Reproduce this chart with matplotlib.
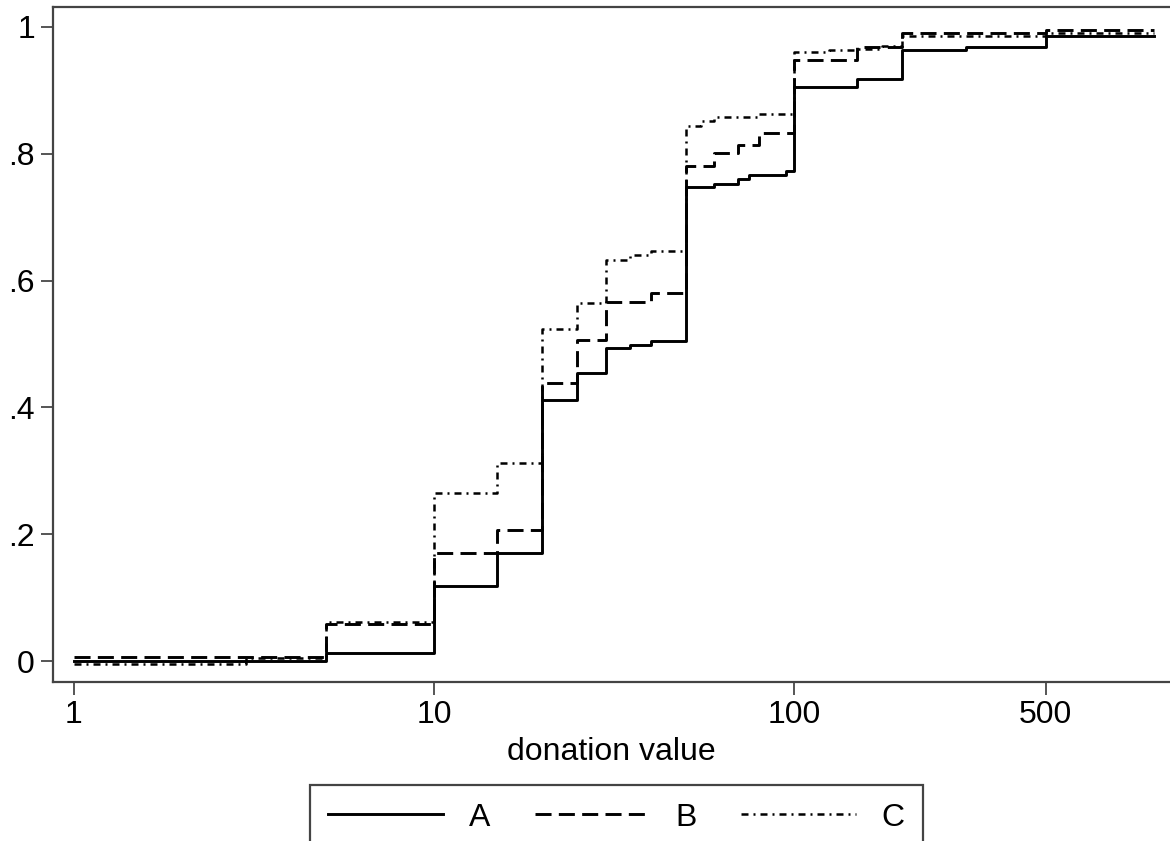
# step plot of cumulative donation shares for three groups
from matplotlib import pyplot as plt
import numpy as np

plt.rcParams['font.family'] = ['Liberation Sans', 'DejaVu Sans']

# group A (solid)
a_x = [1, 5, 10, 15, 20, 25, 30, 35, 40, 50, 60, 70, 75, 95, 100, 150, 200, 300, 500, 1000]
a_y = [0.0, 0.013, 0.119, 0.17, 0.411, 0.455, 0.493, 0.498, 0.505, 0.747, 0.752, 0.76, 0.766,
       0.773, 0.906, 0.918, 0.964, 0.969, 0.986, 0.986]
# group B (dashed)
b_x = [1, 5, 10, 15, 20, 25, 30, 40, 50, 60, 70, 80, 100, 150, 200, 500, 1000]
b_y = [0.006, 0.059, 0.171, 0.206, 0.439, 0.507, 0.567, 0.581, 0.781, 0.802, 0.814, 0.832,
       0.948, 0.969, 0.991, 0.995, 0.995]
# group C (dash-dot)
c_x = [1, 3, 5, 10, 15, 20, 25, 30, 35, 40, 50, 55, 60, 80, 100, 125, 150, 175, 200, 500, 1000]
c_y = [-0.004, 0.005, 0.061, 0.265, 0.312, 0.524, 0.565, 0.633, 0.640, 0.646, 0.844, 0.851,
       0.858, 0.863, 0.960, 0.963, 0.966, 0.970, 0.986, 0.990, 0.990]

x_ticks = [1, 10, 100, 500]
x_ticklabels = ['1', '10', '100', '500']
y_ticks = [0, 0.2, 0.4, 0.6, 0.8, 1]
y_ticklabels = ['0', '.2', '.4', '.6', '.8', '1']

fig = plt.figure(figsize=(11.7, 8.41), dpi=100)
ax = fig.add_axes([53 / 1170, 1 - 682 / 841, 1 - 53 / 1170, (682 - 7) / 841])

ax.step(a_x, a_y, where='post', color='black', lw=2.1, label='A')
ax.step(b_x, b_y, where='post', color='black', lw=2.1, dashes=(5.5, 2.5), label='B')
ax.step(c_x, c_y, where='post', color='black', lw=1.8,
        dashes=(2.8, 2.0, 0.8, 2.0), label='C')

ax.set_xscale('log')
ax.set_xlim(10 ** -0.0583, 10 ** 3.0444)
ax.set_ylim(-0.0331, 1.0315)
ax.set_xticks(x_ticks)
ax.set_xticklabels(x_ticklabels)
ax.minorticks_off()
ax.set_yticks(y_ticks)
ax.set_yticklabels(y_ticklabels)

ax.tick_params(axis='both', direction='out', length=9, width=1.4, color='#555555',
               labelsize=23, pad=4)
ax.set_xlabel('donation value', fontsize=23, labelpad=5)

for side in ['left', 'top', 'bottom']:
    ax.spines[side].set_color('#444444')
    ax.spines[side].set_linewidth(1.6)
ax.spines['right'].set_visible(False)

# legend box runs past the bottom edge, as in the original
leg = fig.legend(loc='upper center', bbox_to_anchor=(616.5 / 1170, 1 - 785 / 841), ncol=3,
                 fontsize=23, handlelength=3.6, handletextpad=0.8, columnspacing=1.4,
                 borderpad=0.55, borderaxespad=0, fancybox=False, framealpha=1,
                 edgecolor='#444444')
leg.get_frame().set_linewidth(1.6)

plt.savefig('out.png', dpi=100)
